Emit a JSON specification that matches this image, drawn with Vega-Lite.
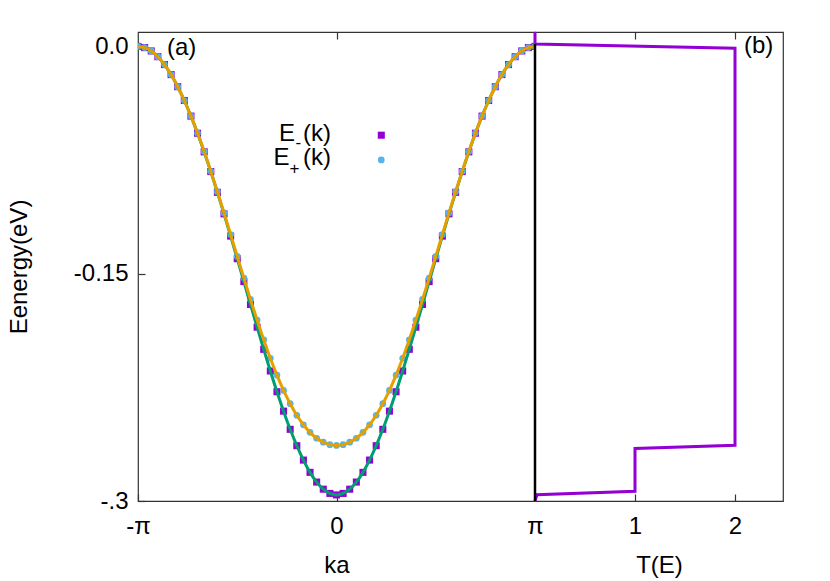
{
  "$schema": "https://vega.github.io/schema/vega-lite/v6.json",
  "background": "white",
  "padding": {"left": 6, "top": 25, "right": 46, "bottom": 2},
  "spacing": 0,
  "bounds": "flush",
  "config": {
    "font": "Liberation Sans",
    "view": {"stroke": "#333333", "strokeWidth": 1.2},
    "axis": {
      "grid": false, "domain": false,
      "labelFont": "Liberation Sans", "titleFont": "Liberation Sans",
      "labelFontSize": 24, "titleFontSize": 24, "titleFontWeight": "normal",
      "labelColor": "black", "titleColor": "black",
      "tickColor": "#333333", "tickSize": -7, "tickWidth": 1.2,
      "labelFlush": false, "labelOverlap": false
    }
  },
  "datasets": {
    "bands": [
      {"k": -3.1416, "em": 0, "ep": 0},
      {"k": -3.0369, "em": -0.0008, "ep": -0.0008},
      {"k": -2.9322, "em": -0.0030, "ep": -0.0030},
      {"k": -2.8274, "em": -0.0068, "ep": -0.0068},
      {"k": -2.7227, "em": -0.0120, "ep": -0.0120},
      {"k": -2.6180, "em": -0.0186, "ep": -0.0186},
      {"k": -2.5133, "em": -0.0266, "ep": -0.0266},
      {"k": -2.4086, "em": -0.0357, "ep": -0.0357},
      {"k": -2.3038, "em": -0.0460, "ep": -0.0460},
      {"k": -2.1991, "em": -0.0573, "ep": -0.0572},
      {"k": -2.0944, "em": -0.0696, "ep": -0.0694},
      {"k": -1.9897, "em": -0.0826, "ep": -0.0824},
      {"k": -1.8850, "em": -0.0963, "ep": -0.0959},
      {"k": -1.7802, "em": -0.1105, "ep": -0.1099},
      {"k": -1.6755, "em": -0.1252, "ep": -0.1242},
      {"k": -1.5708, "em": -0.1401, "ep": -0.1386},
      {"k": -1.4661, "em": -0.1552, "ep": -0.1529},
      {"k": -1.3614, "em": -0.1703, "ep": -0.1670},
      {"k": -1.2566, "em": -0.1853, "ep": -0.1806},
      {"k": -1.1519, "em": -0.1999, "ep": -0.1936},
      {"k": -1.0472, "em": -0.2142, "ep": -0.2058},
      {"k": -0.9425, "em": -0.2279, "ep": -0.2169},
      {"k": -0.8378, "em": -0.2407, "ep": -0.2270},
      {"k": -0.7330, "em": -0.2527, "ep": -0.2358},
      {"k": -0.6283, "em": -0.2635, "ep": -0.2434},
      {"k": -0.5236, "em": -0.2730, "ep": -0.2497},
      {"k": -0.4189, "em": -0.2811, "ep": -0.2547},
      {"k": -0.3142, "em": -0.2875, "ep": -0.2586},
      {"k": -0.2094, "em": -0.2922, "ep": -0.2612},
      {"k": -0.1047, "em": -0.2950, "ep": -0.2628},
      {"k": 0, "em": -0.2960, "ep": -0.2633},
      {"k": 0.1047, "em": -0.2950, "ep": -0.2628},
      {"k": 0.2094, "em": -0.2922, "ep": -0.2612},
      {"k": 0.3142, "em": -0.2875, "ep": -0.2586},
      {"k": 0.4189, "em": -0.2811, "ep": -0.2547},
      {"k": 0.5236, "em": -0.2730, "ep": -0.2497},
      {"k": 0.6283, "em": -0.2635, "ep": -0.2434},
      {"k": 0.7330, "em": -0.2527, "ep": -0.2358},
      {"k": 0.8378, "em": -0.2407, "ep": -0.2270},
      {"k": 0.9425, "em": -0.2279, "ep": -0.2169},
      {"k": 1.0472, "em": -0.2142, "ep": -0.2058},
      {"k": 1.1519, "em": -0.1999, "ep": -0.1936},
      {"k": 1.2566, "em": -0.1853, "ep": -0.1806},
      {"k": 1.3614, "em": -0.1703, "ep": -0.1670},
      {"k": 1.4661, "em": -0.1552, "ep": -0.1529},
      {"k": 1.5708, "em": -0.1401, "ep": -0.1386},
      {"k": 1.6755, "em": -0.1252, "ep": -0.1242},
      {"k": 1.7802, "em": -0.1105, "ep": -0.1099},
      {"k": 1.8850, "em": -0.0963, "ep": -0.0959},
      {"k": 1.9897, "em": -0.0826, "ep": -0.0824},
      {"k": 2.0944, "em": -0.0696, "ep": -0.0694},
      {"k": 2.1991, "em": -0.0573, "ep": -0.0572},
      {"k": 2.3038, "em": -0.0460, "ep": -0.0460},
      {"k": 2.4086, "em": -0.0357, "ep": -0.0357},
      {"k": 2.5133, "em": -0.0266, "ep": -0.0266},
      {"k": 2.6180, "em": -0.0186, "ep": -0.0186},
      {"k": 2.7227, "em": -0.0120, "ep": -0.0120},
      {"k": 2.8274, "em": -0.0068, "ep": -0.0068},
      {"k": 2.9322, "em": -0.0030, "ep": -0.0030},
      {"k": 3.0369, "em": -0.0008, "ep": -0.0008},
      {"k": 3.1416, "em": 0, "ep": 0}
    ],
    "te": [
      {"i": 0, "T": 0, "E": 0.0095},
      {"i": 1, "T": 0, "E": 0.0015},
      {"i": 2, "T": 2, "E": -0.0012},
      {"i": 3, "T": 2, "E": -0.2632},
      {"i": 4, "T": 1, "E": -0.2654},
      {"i": 5, "T": 1, "E": -0.2936},
      {"i": 6, "T": 0.02, "E": -0.2958},
      {"i": 7, "T": 0, "E": -0.3}
    ],
    "one": [{"n": 1}]
  },
  "hconcat": [
    {
      "width": 397,
      "height": 469,
      "data": {"name": "bands"},
      "resolve": {"axis": {"x": "independent"}},
      "layer": [
        {
          "layer": [
            {
              "mark": {"type": "point", "shape": "square", "filled": true, "size": 50, "color": "#9400d3", "opacity": 1, "clip": true},
              "encoding": {
                "x": {"field": "k", "type": "quantitative",
                      "scale": {"domain": [-3.1416, 3.1416], "nice": false, "zero": false},
                      "axis": {"values": [-3.1416, 0, 3.1416],
                               "labelExpr": "datum.value < -1 ? '-π' : (datum.value > 1 ? 'π' : '0')",
                               "title": "ka", "labelPadding": 20, "titlePadding": 15}},
                "y": {"field": "em", "type": "quantitative",
                      "scale": {"domain": [-0.3, 0.0095], "nice": false, "zero": false},
                      "axis": {"values": [0, -0.15, -0.3],
                               "labelExpr": "datum.value == 0 ? '0.0' : (datum.value < -0.2 ? '-.3' : '-0.15')",
                               "title": "Eenergy(eV)", "labelPadding": 17, "titlePadding": 42}}
              }
            },
            {
              "mark": {"type": "point", "shape": "circle", "filled": true, "size": 45, "color": "#56b4e9", "opacity": 1, "clip": true},
              "encoding": {
                "x": {"field": "k", "type": "quantitative"},
                "y": {"field": "ep", "type": "quantitative"}
              }
            },
            {
              "mark": {"type": "line", "color": "#009e73", "strokeWidth": 3, "interpolate": "monotone"},
              "encoding": {
                "x": {"field": "k", "type": "quantitative"},
                "y": {"field": "em", "type": "quantitative"}
              }
            },
            {
              "mark": {"type": "line", "color": "#e69f00", "strokeWidth": 3, "interpolate": "monotone"},
              "encoding": {
                "x": {"field": "k", "type": "quantitative"},
                "y": {"field": "ep", "type": "quantitative"}
              }
            },
            {
              "data": {"name": "one"},
              "mark": {"type": "text", "text": "(a)", "align": "left", "baseline": "middle", "font": "Liberation Sans", "fontSize": 24, "fill": "black"},
              "encoding": {"x": {"datum": -2.683}, "y": {"datum": -0.001}}
            },
            {
              "data": {"name": "one"},
              "mark": {"type": "text", "text": "E", "align": "right", "baseline": "middle", "font": "Liberation Sans", "fontSize": 24, "fill": "black"},
              "encoding": {"x": {"datum": -0.657}, "y": {"datum": -0.0581}}
            },
            {
              "data": {"name": "one"},
              "mark": {"type": "text", "text": "-", "align": "left", "baseline": "middle", "font": "Liberation Sans", "fontSize": 17, "fill": "black"},
              "encoding": {"x": {"datum": -0.650}, "y": {"datum": -0.0640}}
            },
            {
              "data": {"name": "one"},
              "mark": {"type": "text", "text": "(k)", "align": "right", "baseline": "middle", "font": "Liberation Sans", "fontSize": 24, "fill": "black"},
              "encoding": {"x": {"datum": -0.087}, "y": {"datum": -0.0581}}
            },
            {
              "data": {"name": "one"},
              "mark": {"type": "text", "text": "E", "align": "right", "baseline": "middle", "font": "Liberation Sans", "fontSize": 24, "fill": "black"},
              "encoding": {"x": {"datum": -0.744}, "y": {"datum": -0.0738}}
            },
            {
              "data": {"name": "one"},
              "mark": {"type": "text", "text": "+", "align": "left", "baseline": "middle", "font": "Liberation Sans", "fontSize": 17, "fill": "black"},
              "encoding": {"x": {"datum": -0.744}, "y": {"datum": -0.0812}}
            },
            {
              "data": {"name": "one"},
              "mark": {"type": "text", "text": "(k)", "align": "right", "baseline": "middle", "font": "Liberation Sans", "fontSize": 24, "fill": "black"},
              "encoding": {"x": {"datum": -0.087}, "y": {"datum": -0.0738}}
            },
            {
              "data": {"name": "one"},
              "mark": {"type": "point", "shape": "square", "filled": true, "size": 50, "color": "#9400d3", "opacity": 1},
              "encoding": {"x": {"datum": 0.709}, "y": {"datum": -0.0586}}
            },
            {
              "data": {"name": "one"},
              "mark": {"type": "point", "shape": "circle", "filled": true, "size": 45, "color": "#56b4e9", "opacity": 1},
              "encoding": {"x": {"datum": 0.709}, "y": {"datum": -0.0749}}
            }
          ]
        },
        {
          "mark": {"type": "point", "opacity": 0},
          "encoding": {
            "x": {"field": "k", "type": "quantitative",
                  "axis": {"orient": "top", "values": [0], "labels": false, "title": null}}
          }
        }
      ]
    },
    {
      "width": 248,
      "height": 469,
      "data": {"name": "te"},
      "resolve": {"axis": {"x": "independent"}},
      "layer": [
        {
          "layer": [
            {
              "mark": {"type": "line", "color": "#9400d3", "strokeWidth": 3},
              "encoding": {
                "x": {"field": "T", "type": "quantitative",
                      "scale": {"domain": [0, 2.48], "nice": false, "zero": false},
                      "axis": {"values": [1, 2], "format": "d", "title": "T(E)", "labelPadding": 20, "titlePadding": 15}},
                "y": {"field": "E", "type": "quantitative",
                      "scale": {"domain": [-0.3, 0.0095], "nice": false, "zero": false},
                      "axis": null},
                "order": {"field": "i", "type": "quantitative"}
              }
            },
            {
              "data": {"name": "one"},
              "mark": {"type": "rule", "color": "black", "strokeWidth": 2.5},
              "encoding": {"x": {"datum": 0}, "y": {"datum": -0.3}, "y2": {"datum": 0.0015}}
            },
            {
              "data": {"name": "one"},
              "mark": {"type": "text", "text": "(b)", "align": "left", "baseline": "middle", "font": "Liberation Sans", "fontSize": 24, "fill": "black"},
              "encoding": {"x": {"datum": 2.09}, "y": {"datum": 0}}
            }
          ]
        },
        {
          "mark": {"type": "point", "opacity": 0},
          "encoding": {
            "x": {"field": "T", "type": "quantitative",
                  "axis": {"orient": "top", "values": [1, 2], "labels": false, "title": null}}
          }
        }
      ]
    }
  ]
}
